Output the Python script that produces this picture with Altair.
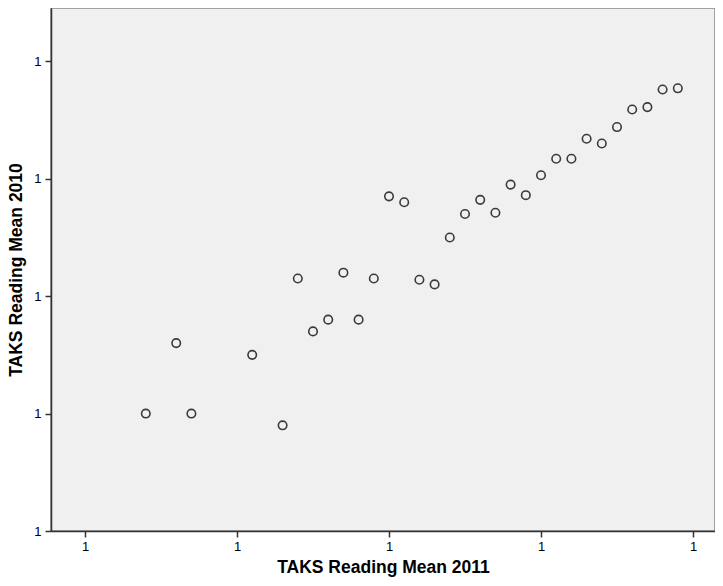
import altair as alt
import pandas as pd

# TAKS Reading Mean values (x = 2011, y = 2010)
mean_2011 = [0.84, 0.86, 0.87, 0.91, 0.93, 0.94, 0.95, 0.96, 0.97, 0.98, 0.99,
             1.00, 1.01, 1.02, 1.03, 1.04, 1.05, 1.06, 1.07, 1.08, 1.09, 1.10,
             1.11, 1.12, 1.13, 1.14, 1.15, 1.16, 1.17, 1.18, 1.19]
mean_2010 = [0.900, 0.960, 0.900, 0.950, 0.890, 1.015, 0.970, 0.980, 1.020, 0.980, 1.015,
             1.085, 1.080, 1.014, 1.010, 1.050, 1.070, 1.082, 1.071, 1.095, 1.086, 1.103,
             1.117, 1.117, 1.134, 1.130, 1.144, 1.159, 1.161, 1.176, 1.177]
tick_values = [0.8, 0.9, 1.0, 1.1, 1.2]

df = pd.DataFrame({"x": mean_2011, "y": mean_2010})

font = "Liberation Sans"

chart = alt.Chart(df).mark_point(
    shape="circle", filled=False, size=72, stroke="#3a3a3a", strokeWidth=1.6, opacity=1
).encode(
    x=alt.X("x:Q", title="TAKS Reading Mean 2011",
            scale=alt.Scale(domain=[0.77763, 1.21447], nice=False, zero=False),
            axis=alt.Axis(values=tick_values, format=".0f", grid=False,
                          domainColor="#333333", domainWidth=1.5,
                          tickColor="#333333", tickWidth=1.5, tickSize=6,
                          labelFont=font, labelFontSize=13, labelColor="#000000",
                          labelPadding=3, titleFont=font, titleFontSize=17.5,
                          titleFontWeight="bold", titleColor="#000000", titlePadding=5)),
    y=alt.Y("y:Q", title="TAKS Reading Mean 2010",
            scale=alt.Scale(domain=[0.8, 1.2454], nice=False, zero=False),
            axis=alt.Axis(values=tick_values, format=".0f", grid=False,
                          domainColor="#333333", domainWidth=1.5,
                          tickColor="#333333", tickWidth=1.5, tickSize=6,
                          labelFont=font, labelFontSize=13, labelColor="#000000",
                          labelPadding=4, titleFont=font, titleFontSize=17.5,
                          titleFontWeight="bold", titleColor="#000000", titlePadding=8)),
).properties(
    width=664, height=523,
    background="#ffffff",
    autosize=alt.AutoSizeParams(type="none"),
    padding={"left": 43, "top": 0, "right": 0, "bottom": 46},
).configure_view(
    fill="#f0f0f0", stroke="#888888", strokeWidth=1.5
)

chart.save("out.html", embed_options={"renderer": "svg", "actions": False})
